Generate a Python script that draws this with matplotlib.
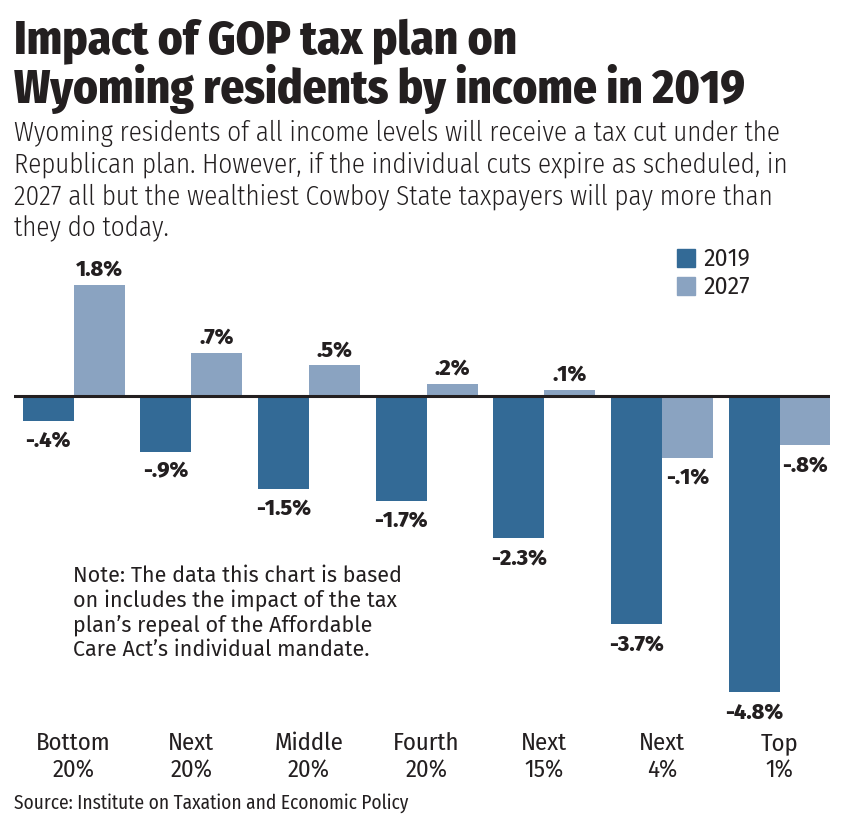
import matplotlib
matplotlib.use('Agg')
import matplotlib.pyplot as plt
import numpy as np

# Data
groups = ['Bottom\n20%', 'Next\n20%', 'Middle\n20%', 'Fourth\n20%', 'Next\n15%', 'Next\n4%', 'Top\n1%']
vals_2019 = [-0.4, -0.9, -1.5, -1.7, -2.3, -3.7, -4.8]
vals_2027 = [1.8, 0.7, 0.5, 0.2, 0.1, -1.0, -0.8]
labels_2019 = ['-.4%', '-.9%', '-1.5%', '-1.7%', '-2.3%', '-3.7%', '-4.8%']
labels_2027 = ['1.8%', '.7%', '.5%', '.2%', '.1%', '-.1%', '-.8%']
title = ['Impact of GOP tax plan on', 'Wyoming residents by income in 2019']
subtitle = ['Wyoming residents of all income levels will receive a tax cut under the',
            'Republican plan. However, if the individual cuts expire as scheduled, in',
            '2027 all but the wealthiest Cowboy State taxpayers will pay more than',
            'they do today.']
note = ['Note: The data this chart is based', 'on includes the impact of the tax',
        'plan\u2019s repeal of the Affordable', 'Care Act\u2019s individual mandate.']
source = 'Source: Institute on Taxation and Economic Policy'

c2019 = '#336a96'
c2027 = '#8aa3c1'
ink = '#231f20'
cond = ['Fira Sans Condensed', 'DejaVu Sans']
wide = ['Fira Sans', 'DejaVu Sans']

W, H = 855, 829
fig = plt.figure(figsize=(W / 100, H / 100), dpi=100)
renderer = fig.canvas.get_renderer()


def fx(px):
    return px / W


def fy(py):
    return 1 - py / H


def fit(t, target):
    # scale font size so the text spans target pixels
    w = t.get_window_extent(renderer).width
    t.set_fontsize(t.get_fontsize() * target / w)
    return t.get_fontsize()


# Axes placed in pixels
left, right, top, bottom = 14, 830, 260, 700
ax = fig.add_axes([fx(left), fy(bottom), fx(right - left), (bottom - top) / H])
x = np.arange(len(groups))
step = 117.7
ax.set_xlim((left - 73.5) / step, (right - 73.5) / step)
zero_px, per = 397, 61.7
ax.set_ylim(-(bottom - zero_px) / per, (zero_px - top) / per)
ax.axis('off')

bw = 51 / step
b1 = ax.bar(x - bw / 2, vals_2019, bw, color=c2019)
b2 = ax.bar(x + bw / 2, vals_2027, bw, color=c2027)
ax.axhline(0, color=ink, lw=2.2)

probe = fig.text(0, 0, '1.8%', fontsize=12, fontweight=800, family=wide)
vfs = fit(probe, 47)
probe.remove()
for bars, labs in ((b1, labels_2019), (b2, labels_2027)):
    for r, lab in zip(bars, labs):
        v = r.get_height()
        cx = r.get_x() + r.get_width() / 2
        if v >= 0:
            ax.annotate(lab, (cx, v), xytext=(0, 4), textcoords='offset points',
                        ha='center', va='bottom', fontsize=vfs, fontweight=800,
                        family=wide, color=ink)
        else:
            ax.annotate(lab, (cx, v), xytext=(0, -6), textcoords='offset points',
                        ha='center', va='top', fontsize=vfs, fontweight=800,
                        family=wide, color=ink)

# Category labels
probe = fig.text(0, 0, 'Bottom', fontsize=15, family=cond)
cfs = fit(probe, 74)
probe.remove()
for i, g in enumerate(groups):
    ax.text(i, -(757 - zero_px) / per, g, ha='center', va='center', fontsize=cfs,
            family=cond, color=ink, linespacing=1.25)

# Title
t1 = fig.text(fx(14), fy(53), title[0], ha='left', va='baseline', fontsize=36,
              fontweight=800, family=cond, color=ink)
t2 = fig.text(fx(14), fy(103), title[1], ha='left', va='baseline', fontsize=36,
              fontweight=800, family=cond, color=ink)
f1 = fit(t1, 504)
f2 = fit(t2, 731)
t1.set_fontsize((f1 + f2) / 2)
t2.set_fontsize((f1 + f2) / 2)

# Subtitle
subs = []
for k, line in enumerate(subtitle):
    subs.append(fig.text(fx(14), fy(133 + 32 * k), line, ha='left', va='center', fontsize=18,
                         fontweight=300, family=cond, color=ink))
sfs = fit(subs[0], 769)
for s in subs:
    s.set_fontsize(sfs)

# Legend
probe = fig.text(0, 0, '2019', fontsize=14, family=wide)
lfs = fit(probe, 47)
probe.remove()
for k, (lab, c) in enumerate((('2019', c2019), ('2027', c2027))):
    yc = 259 + 28 * k
    fig.patches.append(plt.Rectangle((fx(677), fy(yc + 9)), fx(18), 18 / H,
                                     color=c, transform=fig.transFigure))
    fig.text(fx(703), fy(yc), lab, ha='left', va='center', fontsize=lfs,
             family=wide, color=ink)

# Note
notes = []
for k, line in enumerate(note):
    notes.append(fig.text(fx(73), fy(576 + 24.5 * k), line, ha='left', va='center',
                          fontsize=14, family=wide, color=ink))
nfs = fit(notes[0], 329)
for t in notes:
    t.set_fontsize(nfs)

src = fig.text(fx(14), fy(803), source, ha='left', va='center', fontsize=13,
               family=cond, color=ink)
fit(src, 396)

fig.savefig('out.png', dpi=100)
